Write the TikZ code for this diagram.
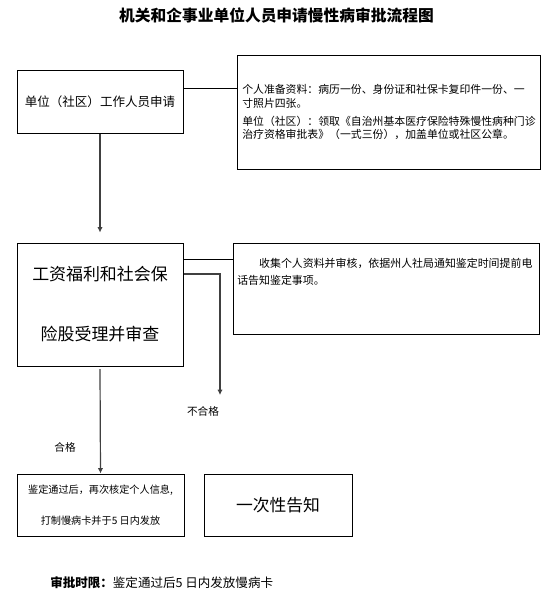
\documentclass[tikz,border=0pt]{standalone}
\usepackage{fontspec}
\setmainfont{Noto Sans CJK SC}
\usetikzlibrary{arrows.meta}
\begin{document}
\begin{tikzpicture}[x=0.75pt,y=-0.75pt,
  box/.style={draw,line width=0.75pt,inner sep=0pt,align=center},
  conn/.style={line width=0.75pt},
  arr/.style={line width=0.9pt,draw=black!75,-{Latex[length=4pt,width=4pt]}},
  lbl/.style={inner sep=0pt,font=\fontsize{8}{10}\selectfont}]
\useasboundingbox[fill=white] (0,0) rectangle (546,611);

\node[inner sep=0pt,font=\fontsize{11.8}{14}\selectfont\bfseries] (title) at (276.5,15) {机关和企事业单位人员申请慢性病审批流程图};

\node[box,minimum width=124.5pt,minimum height=47.25pt,font=\fontsize{9.4}{11}\selectfont] (b1) at (100,101.5) {单位（社区）工作人员申请};

\node[box,minimum width=227.25pt,minimum height=85.5pt] (b2) at (388.5,112) {};
\node[anchor=west,align=left,inner sep=0pt,font=\fontsize{8.15}{10.1}\selectfont] (t2) at (242,112) {个人准备资料：病历一份、身份证和社保卡复印件一份、一\\寸照片四张。\\[3.4pt]单位（社区）：领取《自治州基本医疗保险特殊慢性病种门诊\\治疗资格审批表》（一式三份），加盖单位或社区公章。};

\node[box,minimum width=124.5pt,minimum height=92.25pt,font=\fontsize{12.7}{45}\selectfont] (b3) at (100,304.5) {工资福利和社会保\\险股受理并审查};

\node[box,minimum width=229.5pt,minimum height=68.25pt] (b4) at (386,288.5) {};
\node[anchor=north west,align=left,inner sep=0pt,font=\fontsize{8.2}{12.75}\selectfont] (t4) at (237,257.5) {\hspace*{2em}收集个人资料并审核，依据州人社局通知鉴定时间提前电\\话告知鉴定事项。};

\node[box,minimum width=125.25pt,minimum height=46.5pt,font=\fontsize{7.6}{23}\selectfont] (b5) at (100.5,505) {鉴定通过后，再次核定个人信息,\\打制慢病卡并于5 日内发放};

\node[box,minimum width=111pt,minimum height=46.5pt,font=\fontsize{12.6}{14}\selectfont] (b6) at (278,505) {一次性告知};

\node[lbl] (fail) at (203,411) {不合格};
\node[lbl] (pass) at (65,447) {合格};

\node[anchor=west,inner sep=0pt,font=\fontsize{9.4}{10}\selectfont] (note) at (50,583) {\textbf{审批时限：}鉴定通过后5 日内发放慢病卡};

\path ([yshift=9.4pt]b1.east) coordinate (p1);
\draw[conn] (p1) -- (p1 -| b2.west);
\path ([yshift=34.1pt]b3.east) coordinate (p2);
\draw[conn] (p2) -- (p2 -| b4.west);
\path ([yshift=22.9pt]b3.east) coordinate (p3);
\coordinate (failtip) at (220,395);
\draw[arr] (p3) -| (failtip);

\draw[arr] (b1.south) -- ([yshift=7.5pt]b3.north);
\draw[arr] ([yshift=-2pt]b3.south) -- (b5.north);
\end{tikzpicture}
\end{document}
